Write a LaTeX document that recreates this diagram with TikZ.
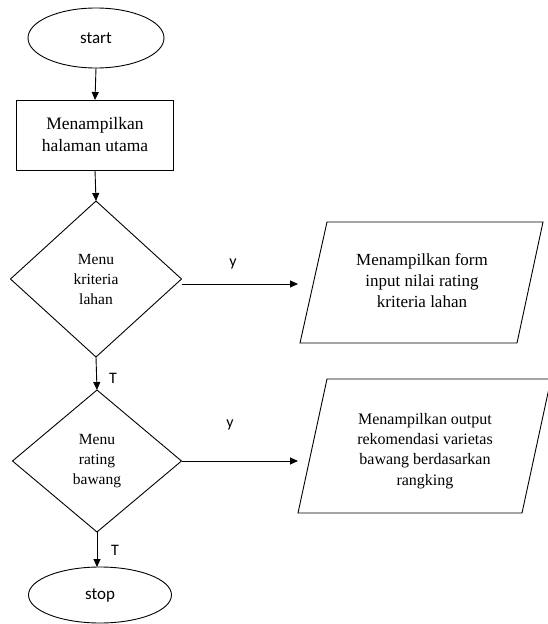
\documentclass[tikz,border=0pt]{standalone}
\usepackage{fontspec}
\setmainfont{Liberation Serif}
\newfontfamily\serfont{Liberation Serif}
\newfontfamily\calfont{Carlito}
\usetikzlibrary{shapes.geometric,arrows.meta}
\begin{document}
\begin{tikzpicture}[x=1pt,y=-1pt,
  line width=0.9pt,
  every node/.style={inner sep=0pt,outer sep=0pt},
  term/.style={draw,ellipse,font=\calfont\fontsize{17}{20}\selectfont},
  procbox/.style={draw,rectangle,align=center,font=\serfont\fontsize{17.5}{22}\selectfont},
  decide/.style={draw,diamond,align=center,font=\serfont\fontsize{15.5}{20}\selectfont},
  iotext/.style={align=center},
  lbl/.style={font=\calfont\fontsize{16}{18}\selectfont},
  arr/.style={-{Triangle[length=8pt,width=7pt]}}
]
\useasboundingbox (0,0) rectangle (548,624);
\clip (0,0) rectangle (548,624);

\node[term,minimum width=136pt,minimum height=60pt] (start) at (96,38) {start};
\node[procbox,minimum width=157pt,minimum height=70pt] (main) at (95,135) {Menampilkan\\halaman utama};
\node[decide,minimum width=171pt,minimum height=156pt] (d1) at (96,279) {Menu\\kriteria\\lahan};
\node[decide,minimum width=169pt,minimum height=142pt] (d2) at (97,461) {Menu\\rating\\bawang};
\node[term,minimum width=143pt,minimum height=56pt] (stop) at (100,595) {stop};

% parallelogram 1
\node[iotext,font=\serfont\fontsize{17}{21}\selectfont] (p1) at (422,281) {Menampilkan form\\input nilai rating\\kriteria lahan};
\draw (327,222) -- (543,222) -- (517,343) -- (300,343) -- cycle;
% parallelogram 2
\node[iotext,font=\serfont\fontsize{16}{20.3}\selectfont] (p2) at (425,451) {Menampilkan output\\rekomendasi varietas\\bawang berdasarkan\\rangking};
\draw (327,379) -- (551,379) -- (522,513) -- (298,513) -- cycle;

\coordinate (e1) at (298,284);
\coordinate (e2) at (298,461);

\draw[arr] (start.south) -- (main.north);
\draw[arr] (main.south) -- (d1.north);
\draw[arr] (d1.south) -- (d2.north);
\draw[arr] (d2.south) -- (d2.south |- stop.north);
\draw[arr] (d1.east |- e1) -- (e1);
\draw[arr] (d2.east) -- (e2);

\node[lbl] (y1) at (233,264) {y};
\node[lbl] (y2) at (230,425) {y};
\node[lbl] (t1) at (113,378) {T};
\node[lbl] (t2) at (115,550) {T};
\end{tikzpicture}
\end{document}
